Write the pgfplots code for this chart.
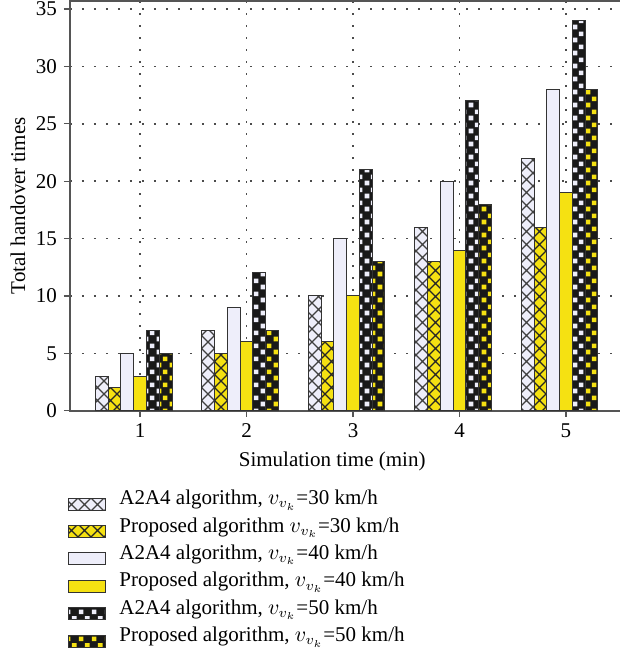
\documentclass[border=0pt]{standalone}
\usepackage{fontspec}
\setmainfont{Liberation Serif}
\usepackage{pgfplots}
\pgfplotsset{compat=1.18}
\usetikzlibrary{patterns.meta}
\definecolor{lav}{RGB}{238,238,250}
\definecolor{yel}{RGB}{245,225,18}
\definecolor{axgray}{RGB}{85,85,85}
\tikzdeclarepattern{name=bigx, type=uncolored,
  bottom left={(-0.5pt,-0.5pt)}, top right={(7pt,7pt)}, tile size={(6.5pt,6.5pt)},
  code={\draw[line width=0.65pt] (0pt,0pt)--(6.5pt,6.5pt) (0pt,6.5pt)--(6.5pt,0pt);}}
\tikzdeclarepattern{name=checks, type=uncolored,
  bottom left={(0pt,0pt)}, top right={(6.5pt,6.5pt)}, tile size={(6.5pt,6.5pt)},
  code={\fill (0.4pt,0.4pt) rectangle (2.85pt,2.85pt); \fill (3.65pt,3.65pt) rectangle (6.1pt,6.1pt);}}
\begin{document}
\begin{tikzpicture}[font=\fontsize{10.5}{12.5}\selectfont]
\useasboundingbox (-35pt,-121.65pt) rectangle (275pt,205.35pt);
\begin{axis}[
  at={(0,0)}, anchor=south west,
  scale only axis, width=276pt, height=204.85pt,
  xmin=0.342, xmax=5.526, ymin=0, ymax=35.7,
  xtick={1,2,3,4,5}, ytick={0,5,10,15,20,25,30,35},
  xtick pos=bottom, ytick pos=left, tick align=outside,
  major tick length=3pt,
  axis line style={axgray, line width=0.8pt},
  tick style={axgray, line width=0.6pt},
  grid=major,
  grid style={black!70, line width=0.8pt, dash pattern=on 0.8pt off 5.2pt},
  /pgf/number format/assume math mode=true,
  xlabel={Simulation time (min)},
  ylabel={Total handover times},
  every axis x label/.style={at={(axis description cs:0.475,-0.125)}, anchor=center},
  every axis y label/.style={at={(axis description cs:-0.0944,0.5)}, rotate=90, anchor=center},
  legend image code/.code={\draw[#1] (0pt,-3pt) rectangle (18.5pt,3pt);},
  legend cell align=left,
  legend style={at={(axis description cs:0,0)}, anchor=north west, xshift=-1pt, yshift=-39.6pt,
    draw=none, fill=none, inner sep=0pt, column sep=6.5pt,
    nodes={inner sep=0pt, text height=7.2pt, text depth=6.5pt}},
]
\addplot[ybar, bar width=0.12, bar shift=-0.36, fill=lav, draw=black!80, line width=0.5pt,
  postaction={pattern=bigx, pattern color=black!75}]
  coordinates {(1,3)(2,7)(3,10)(4,16)(5,22)};
\addlegendentry{A2A4 algorithm, $v_{v_k}$=30 km/h}
\addplot[ybar, bar width=0.12, bar shift=-0.24, fill=yel, draw=black!80, line width=0.5pt,
  postaction={pattern=bigx, pattern color=black!85}]
  coordinates {(1,2)(2,5)(3,6)(4,13)(5,16)};
\addlegendentry{Proposed algorithm $v_{v_k}$=30 km/h}
\addplot[ybar, bar width=0.12, bar shift=-0.12, fill=lav, draw=black!80, line width=0.5pt]
  coordinates {(1,5)(2,9)(3,15)(4,20)(5,28)};
\addlegendentry{A2A4 algorithm, $v_{v_k}$=40 km/h}
\addplot[ybar, bar width=0.12, bar shift=0, fill=yel, draw=black!80, line width=0.5pt]
  coordinates {(1,3)(2,6)(3,10)(4,14)(5,19)};
\addlegendentry{Proposed algorithm, $v_{v_k}$=40 km/h}
\addplot[ybar, bar width=0.12, bar shift=0.12, fill=black!90, draw=black!80, line width=0.5pt,
  postaction={pattern=checks, pattern color=lav}]
  coordinates {(1,7)(2,12)(3,21)(4,27)(5,34)};
\addlegendentry{A2A4 algorithm, $v_{v_k}$=50 km/h}
\addplot[ybar, bar width=0.12, bar shift=0.24, fill=black!90, draw=black!80, line width=0.5pt,
  postaction={pattern=checks, pattern color=yel}]
  coordinates {(1,5)(2,7)(3,13)(4,18)(5,28)};
\addlegendentry{Proposed algorithm, $v_{v_k}$=50 km/h}
\end{axis}
\end{tikzpicture}
\end{document}
